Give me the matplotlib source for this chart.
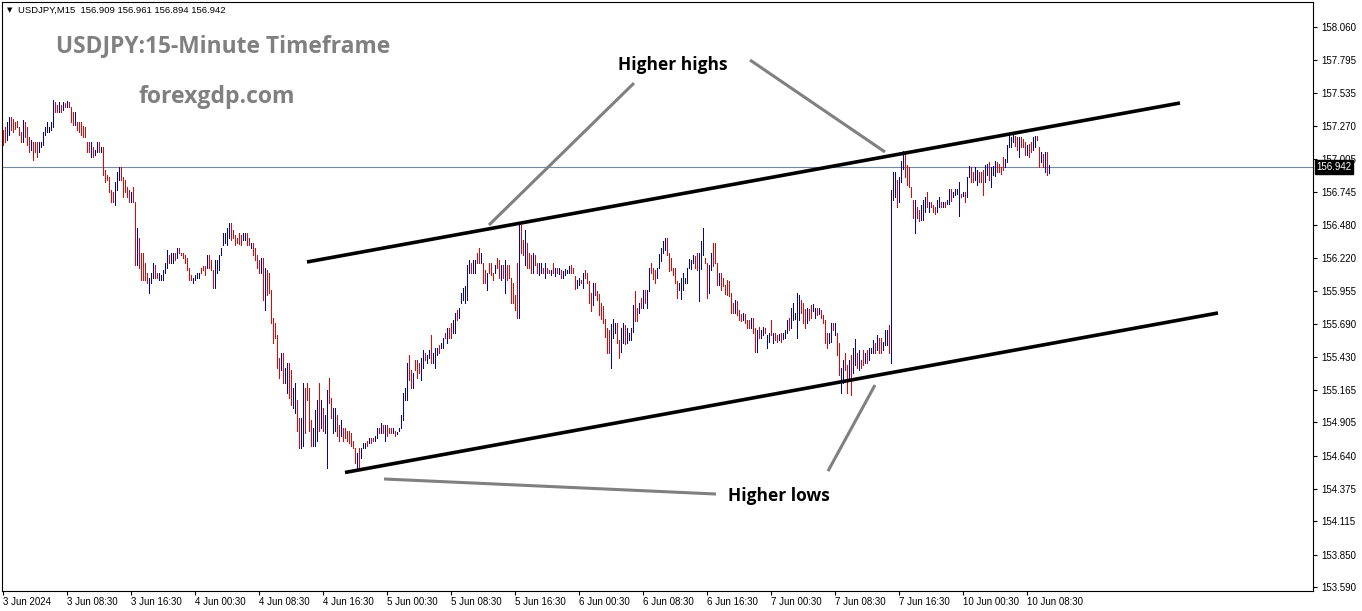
import matplotlib
matplotlib.use("Agg")
import matplotlib.pyplot as plt
import numpy as np

plt.rcParams['font.family'] = ['Liberation Sans', 'DejaVu Sans']

# ---------------- data (USDJPY M15 bars) ----------------
highs = [
157.24,157.26,157.30,157.34,157.34,157.33,157.30,157.31,157.26,157.22,
157.32,157.30,157.26,157.18,157.16,157.14,157.14,157.14,157.14,157.14,
157.22,157.26,157.30,157.26,157.30,157.48,157.46,157.44,157.46,157.44,
157.46,157.45,157.47,157.46,157.42,157.38,157.38,157.30,157.30,157.30,
157.27,157.26,157.14,157.14,157.14,157.10,157.08,157.14,157.14,157.10,
157.10,156.92,156.88,156.86,156.76,156.74,156.82,156.90,156.94,156.94,
156.86,156.84,156.78,156.76,156.74,156.78,156.66,156.46,156.38,156.26,
156.26,156.18,156.10,156.06,156.10,156.18,156.16,156.10,156.10,156.08,
156.12,156.18,156.28,156.24,156.26,156.26,156.26,156.30,156.30,156.26,
156.26,156.24,156.22,156.14,156.08,156.06,156.08,156.10,156.10,156.14,
156.15,156.15,156.24,156.24,156.20,156.12,156.20,156.20,156.24,156.30,
156.42,156.42,156.46,156.50,156.50,156.44,156.40,156.38,156.42,156.40,
156.42,156.42,156.42,156.38,156.34,156.34,156.30,156.24,156.20,156.22,
156.22,156.14,156.12,156.10,155.96,155.74,155.70,155.60,155.42,155.46,
155.46,155.34,155.38,155.38,155.32,155.18,155.22,155.08,154.94,154.94,
155.22,155.18,155.22,155.18,154.92,154.86,155.00,155.08,155.22,155.08,
155.02,154.96,155.16,155.26,155.10,155.02,155.02,154.96,154.88,154.92,
154.86,154.86,154.84,154.84,154.82,154.76,154.70,154.66,154.70,154.70,
154.74,154.74,154.76,154.78,154.78,154.78,154.80,154.86,154.86,154.90,
154.88,154.88,154.88,154.86,154.86,154.86,154.84,154.83,154.86,154.96,
155.14,155.18,155.38,155.44,155.32,155.30,155.40,155.40,155.38,155.42,
155.48,155.46,155.44,155.48,155.60,155.46,155.50,155.50,155.52,155.54,
155.58,155.62,155.66,155.66,155.70,155.72,155.78,155.80,155.82,155.94,
155.98,155.99,156.16,156.20,156.18,156.20,156.20,156.26,156.30,156.26,
156.18,156.12,156.10,156.18,156.18,156.10,156.16,156.22,156.20,156.16,
156.16,156.20,156.16,156.16,156.06,156.02,155.92,156.18,156.48,156.48,
156.36,156.44,156.34,156.26,156.24,156.26,156.24,156.18,156.18,156.18,
156.14,156.18,156.14,156.12,156.12,156.18,156.14,156.14,156.14,156.12,
156.11,156.13,156.12,156.15,156.16,156.14,156.07,156.04,156.06,156.04,
156.10,156.12,156.10,156.03,155.94,156.02,156.02,155.95,155.93,155.86,
155.83,155.73,155.66,155.64,155.69,155.73,155.70,155.70,155.56,155.66,
155.70,155.68,155.66,155.62,155.66,155.84,155.95,155.82,155.86,155.90,
155.96,155.96,155.96,156.14,156.18,156.14,156.12,156.14,156.25,156.30,
156.35,156.38,156.38,156.26,156.22,156.14,156.14,156.03,156.02,156.06,
156.10,156.06,156.14,156.21,156.20,156.24,156.23,156.26,156.26,156.35,
156.46,156.22,156.18,156.16,156.26,156.34,156.34,156.18,156.10,156.10,
156.06,156.00,156.04,156.03,155.94,155.86,155.88,155.87,155.80,155.77,
155.78,155.77,155.72,155.72,155.74,155.74,155.66,155.64,155.67,155.64,
155.67,155.66,155.60,155.62,155.72,155.62,155.62,155.60,155.61,155.62,
155.62,155.64,155.72,155.74,155.82,155.86,155.78,155.94,155.92,155.88,
155.86,155.81,155.82,155.81,155.84,155.85,155.82,155.82,155.82,155.80,
155.76,155.72,155.62,155.62,155.70,155.70,155.70,155.62,155.54,155.34,
155.40,155.46,155.36,155.40,155.44,155.50,155.57,155.46,155.48,155.40,
155.48,155.46,155.48,155.50,155.50,155.56,155.54,155.60,155.58,155.58,
155.55,155.64,155.64,155.68,156.76,156.90,156.90,156.84,156.86,156.99,
157.07,157.07,156.96,156.94,156.78,156.68,156.68,156.62,156.60,156.64,
156.68,156.70,156.74,156.66,156.66,156.64,156.62,156.68,156.70,156.66,
156.66,156.66,156.68,156.77,156.77,156.74,156.77,156.77,156.82,156.73,
156.74,156.74,156.86,156.95,156.94,156.90,156.94,156.92,156.90,156.90,
156.92,156.96,156.97,156.98,156.94,156.95,156.99,156.98,156.97,156.94,
157.02,157.01,157.12,157.20,157.18,157.20,157.19,157.18,157.18,157.18,
157.17,157.14,157.12,157.13,157.14,157.18,157.19,157.19,157.10,157.06,
157.05,157.06,157.06,156.961,
]

lows = [
157.12,157.14,157.16,157.20,157.24,157.22,157.25,157.26,157.20,157.14,
157.14,157.18,157.12,157.06,157.08,157.00,157.06,157.02,157.06,157.10,
157.12,157.20,157.22,157.22,157.24,157.26,157.38,157.38,157.38,157.38,
157.40,157.42,157.42,157.42,157.30,157.28,157.28,157.24,157.22,157.20,
157.18,157.18,157.06,157.06,157.02,157.02,157.04,157.06,157.06,157.06,
156.88,156.82,156.84,156.74,156.66,156.66,156.64,156.76,156.84,156.84,
156.70,156.74,156.70,156.66,156.66,156.66,156.16,156.16,156.14,156.04,
156.04,156.04,156.02,155.94,156.02,156.06,156.06,156.06,156.04,156.04,
156.04,156.10,156.14,156.18,156.18,156.18,156.20,156.22,156.26,156.24,
156.22,156.18,156.12,156.04,156.04,156.02,156.04,156.06,156.06,156.10,
156.12,156.08,156.14,156.14,156.12,155.98,155.98,156.10,156.12,156.24,
156.32,156.34,156.32,156.38,156.36,156.38,156.32,156.34,156.33,156.32,
156.36,156.36,156.32,156.32,156.30,156.24,156.20,156.14,156.10,156.10,
155.88,155.80,155.92,155.94,155.70,155.54,155.58,155.34,155.26,155.32,
155.22,155.22,155.14,155.10,155.04,155.02,154.98,154.84,154.70,154.70,
154.72,154.82,155.08,154.84,154.72,154.72,154.72,154.76,154.84,154.86,
154.84,154.82,154.54,155.06,154.94,154.82,154.84,154.80,154.76,154.80,
154.76,154.78,154.76,154.74,154.72,154.70,154.58,154.54,154.54,154.62,
154.70,154.70,154.72,154.74,154.74,154.76,154.76,154.78,154.82,154.82,
154.82,154.76,154.80,154.82,154.82,154.82,154.80,154.81,154.84,154.86,
154.92,155.08,155.08,155.24,155.18,155.18,155.32,155.26,155.30,155.24,
155.34,155.40,155.38,155.42,155.38,155.38,155.34,155.44,155.46,155.50,
155.50,155.58,155.54,155.58,155.58,155.62,155.62,155.72,155.74,155.86,
155.88,155.86,155.88,156.10,156.10,156.10,156.10,156.18,156.18,156.18,
156.02,156.02,155.96,156.10,156.08,156.04,156.10,156.14,156.06,156.04,
156.06,155.94,156.04,156.06,155.86,155.86,155.80,155.74,155.74,156.26,
156.24,156.16,156.14,156.14,156.10,156.10,156.16,156.10,156.08,156.10,
156.10,156.06,156.10,156.10,156.08,156.10,156.07,156.10,156.09,156.06,
156.06,156.08,156.10,156.10,156.10,156.10,155.97,155.98,156.00,156.02,
155.98,156.06,156.02,155.86,155.79,155.84,155.92,155.88,155.76,155.73,
155.70,155.59,155.46,155.46,155.34,155.58,155.62,155.54,155.42,155.47,
155.54,155.53,155.54,155.56,155.56,155.63,155.71,155.71,155.78,155.82,
155.82,155.86,155.82,155.95,156.10,156.05,156.02,156.06,156.14,156.19,
156.26,156.28,156.24,156.11,156.12,156.08,156.02,155.90,155.96,155.89,
155.96,156.02,156.02,156.14,156.13,156.18,156.14,156.12,155.87,156.13,
156.24,156.18,155.90,155.94,156.12,156.15,156.18,156.00,156.00,155.96,
155.99,155.93,155.92,155.91,155.78,155.78,155.78,155.76,155.72,155.71,
155.72,155.70,155.66,155.66,155.66,155.62,155.47,155.47,155.58,155.58,
155.60,155.62,155.50,155.55,155.60,155.54,155.56,155.55,155.56,155.55,
155.57,155.58,155.62,155.64,155.66,155.72,155.73,155.58,155.72,155.78,
155.70,155.66,155.70,155.72,155.74,155.79,155.74,155.76,155.77,155.74,
155.70,155.54,155.50,155.54,155.55,155.64,155.60,155.44,155.28,155.14,
155.22,155.32,155.14,155.26,155.12,155.30,155.36,155.34,155.32,155.34,
155.36,155.38,155.38,155.40,155.46,155.46,155.46,155.48,155.46,155.46,
155.48,155.52,155.52,155.46,155.38,156.68,156.70,156.62,156.66,156.82,
156.93,156.86,156.80,156.78,156.70,156.54,156.42,156.54,156.51,156.52,
156.52,156.58,156.62,156.58,156.62,156.58,156.57,156.58,156.62,156.62,
156.62,156.62,156.65,156.65,156.67,156.70,156.72,156.73,156.55,156.70,
156.71,156.66,156.70,156.86,156.82,156.82,156.84,156.80,156.82,156.82,
156.72,156.82,156.88,156.84,156.78,156.88,156.87,156.90,156.90,156.89,
156.92,156.94,156.98,157.10,157.10,157.14,157.11,157.08,157.02,157.10,
157.10,157.04,157.04,157.02,157.06,157.08,157.10,157.16,156.94,156.98,
156.94,156.90,156.88,156.894,
]

# bar direction: u = close above open (blue), d = close below open (red), n = unchanged
dirs = """
d d u u d d d d d d  u d d d u d d d u u  u u u n u u d d u d  u d u d d d u d d d
d d d d u d u u d n  d d d d d d u u u d  d d d d u d d u d d  d d d u u u d d u u
u u u d u u d u d d  d d d d d u u u u d  d d u d d d u u u u  u u u u d d d d d d
u u d d u d d d d u  d u d d d d d d d u  d u u d d u u d d u  u d d d d u u u d u
d u u d d u u d d u  d d d d d d d u d u  u u d u d d u u d u  d u d d d u d u u u
u u u d d u d d d u  u d u u d u u u d u  u d u d d u u d u u  u u u u d u u d d u
d d u d d d u d d u  d u d d d d d d u d  d u d d d u d d u u  d u d d u d u d u d
u u u u d d d u u d  u d d d d u d d d d  d d d d u u u d d u  u d u u u u d d u d
u d u u d d d u u u  u u d d d d d d u u  u u u u u u d d u u  u d d u u d d d u d
d d d d d d u d d d  u d d d u d d u d u  u d u u d u d d u d  u u u d u u u u u d
d d u d d u u d u d  d d d u u d u d d u  u d d u d u u d u d  d u d u u u d u d d
u u u d u u u d u u  u d d d d d u d d u  u u d u d d d u u d  u d u u d u u u u d
u d u u d d u u d d  d u u d u u u d d d  d u u u u u d d u d  d d u d d u u d d u
d u d u
""".split()

current_price = 156.942
header_text = "USDJPY,M15  156.909 156.961 156.894 156.942"
chart_title = "USDJPY:15-Minute Timeframe"
site_name = "forexgdp.com"

ytick_vals = [158.060, 157.795, 157.535, 157.270, 157.005, 156.745, 156.480, 156.220,
              155.955, 155.690, 155.430, 155.165, 154.905, 154.640, 154.375, 154.115,
              153.850, 153.590]
xtick_bars = [0, 32, 64, 96, 128, 160, 192, 224, 256, 288, 320, 352, 384, 416, 448, 480, 512]
xtick_labels = ["3 Jun 2024", "3 Jun 08:30", "3 Jun 16:30", "4 Jun 00:30", "4 Jun 08:30",
                "4 Jun 16:30", "5 Jun 00:30", "5 Jun 08:30", "5 Jun 16:30", "6 Jun 00:30",
                "6 Jun 08:30", "6 Jun 16:30", "7 Jun 00:30", "7 Jun 08:30", "7 Jun 16:30",
                "10 Jun 00:30", "10 Jun 08:30"]

# drawn trend lines (bar index, price)
channel_upper = [(152.0, 156.185), (588.5, 157.454)]
channel_lower = [(171.0, 154.505), (607.5, 155.778)]
pointer_lines = [
    [(243.0, 156.480), (315.5, 157.613)],
    [(373.5, 157.797), (441.0, 157.063)],
    [(436.0, 155.203), (412.5, 154.516)],
    [(190.5, 154.453), (356.5, 154.333)],
]
label_highs = ("Higher highs", 335.0, 157.757)
label_lows = ("Higher lows", 388.0, 154.317)

# ---------------- figure ----------------
W_PX, H_PX = 1362, 611
fig = plt.figure(figsize=(W_PX / 100, H_PX / 100), dpi=100)
fig.patch.set_facecolor('white')
left_px, right_px, top_px, bot_px = 2, 1313, 2, 591
ax = fig.add_axes([left_px / W_PX, 1 - bot_px / H_PX,
                   (right_px - left_px) / W_PX, (bot_px - top_px) / H_PX])
ax.set_facecolor('white')

n = min(len(highs), len(lows), len(dirs))
x = np.arange(n)
col_map = {'u': '#0000CC', 'd': '#EE0000', 'n': '#000000'}
cols = [col_map[d] for d in dirs[:n]]
ax.vlines(x, lows[:n], highs[:n], colors=cols, linewidth=0.55,
          antialiased=False, zorder=2)

ax.set_xlim(-0.5, 655)
ax.set_ylim(153.559, 158.260)

# bid line
ax.axhline(current_price, color='#778899', linewidth=0.8, zorder=1)

# channel
for seg in (channel_upper, channel_lower):
    xs, ys = zip(*seg)
    ax.plot(xs, ys, color='black', linewidth=2.6, solid_capstyle='butt', zorder=3)
for seg in pointer_lines:
    xs, ys = zip(*seg)
    ax.plot(xs, ys, color='#808080', linewidth=2.2, solid_capstyle='butt', zorder=3)

for txt, xi, yi in (label_highs, label_lows):
    ax.text(xi, yi, txt, ha='center', va='center', fontsize=12.5,
            fontweight='bold', color='black', family=['Open Sans', 'DejaVu Sans'], zorder=4)

# axes style
for sp in ax.spines.values():
    sp.set_color('black')
    sp.set_linewidth(0.8)
ax.yaxis.tick_right()
ax.set_yticks(ytick_vals)
ax.set_yticklabels([f"{v:.3f}" for v in ytick_vals])
ax.tick_params(axis='y', direction='out', length=3, width=0.8, pad=3,
               labelsize=7, colors='black')
ax.set_xticks(xtick_bars)
ax.set_xticklabels(xtick_labels, ha='left')
ax.tick_params(axis='x', direction='out', length=3, width=0.8, pad=1.5,
               labelsize=7, colors='black')

# current price tag
ax.text(1.0025, current_price, f"{current_price:.3f}", transform=ax.get_yaxis_transform(),
        color='white', fontsize=7, va='center', ha='left', clip_on=False, zorder=6,
        bbox=dict(boxstyle='square,pad=0.18', fc='black', ec='black'))

# header & watermark titles
fig.text(7 / W_PX, 1 - 10 / H_PX, "\u25BC", fontsize=5, va='center', ha='left',
         family='DejaVu Sans', color='black')
fig.text(18 / W_PX, 1 - 10 / H_PX, header_text, fontsize=6.8, va='center', ha='left',
         color='black')
fig.text(223 / W_PX, 1 - 46.5 / H_PX, chart_title, fontsize=16.4, fontweight='bold',
         color='#808080', ha='center', va='center', family=['Open Sans', 'DejaVu Sans'])
fig.text(217 / W_PX, 1 - 97 / H_PX, site_name, fontsize=16.6, fontweight='bold',
         color='#808080', ha='center', va='center', family=['Open Sans', 'DejaVu Sans'])

fig.savefig("out.png", dpi=100, facecolor='white')
